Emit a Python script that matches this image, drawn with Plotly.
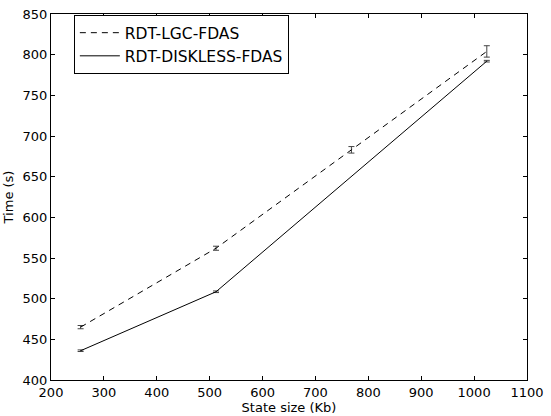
import plotly.graph_objects as go

state_size_lgc = [256, 512, 768, 1024]
time_lgc = [465, 562, 683, 804]
err_lgc = [2, 2.5, 4, 7]

state_size_diskless = [256, 512, 1024]
time_diskless = [436, 508.5, 792]
err_diskless = [1, 1, 1]

font = "DejaVu Sans"

fig = go.Figure()
fig.add_trace(go.Scatter(
    x=state_size_lgc, y=time_lgc, mode="lines", name="RDT-LGC-FDAS",
    line=dict(color="black", width=1, dash="6px,5px"),
    error_y=dict(type="data", array=err_lgc, color="#444", thickness=1, width=3),
))
fig.add_trace(go.Scatter(
    x=state_size_diskless, y=time_diskless, mode="lines", name="RDT-DISKLESS-FDAS",
    line=dict(color="black", width=1),
    error_y=dict(type="data", array=err_diskless, color="#444", thickness=1, width=3),
))

axis_common = dict(
    showline=True, linecolor="black", linewidth=1, mirror="allticks",
    ticks="inside", ticklen=4, tickcolor="black", showgrid=False, zeroline=False,
    tickfont=dict(family=font, size=13, color="black"),
)
fig.update_xaxes(range=[200, 1100], dtick=100, tick0=200,
                 title=dict(text="State size (Kb)", font=dict(family=font, size=13, color="black"), standoff=0),
                 **axis_common)
fig.update_yaxes(range=[400, 850], dtick=50, tick0=400,
                 title=dict(text="Time (s)", font=dict(family=font, size=13, color="black"), standoff=6),
                 **axis_common)

fig.update_layout(
    width=551, height=416,
    margin=dict(l=51, r=17, t=7, b=36),
    plot_bgcolor="white", paper_bgcolor="white",
    font=dict(family=font, size=13, color="black"),
    legend=dict(x=0.048, y=0.997, xanchor="left", yanchor="top",
                bordercolor="black", borderwidth=1, bgcolor="white",
                font=dict(family=font, size=15.5, color="black"),
                itemwidth=40, tracegroupgap=0),
    showlegend=True,
)

fig.write_html("out.html", config={"displayModeBar": False},
               post_script="document.body.style.margin='0';document.body.style.padding='0';")
